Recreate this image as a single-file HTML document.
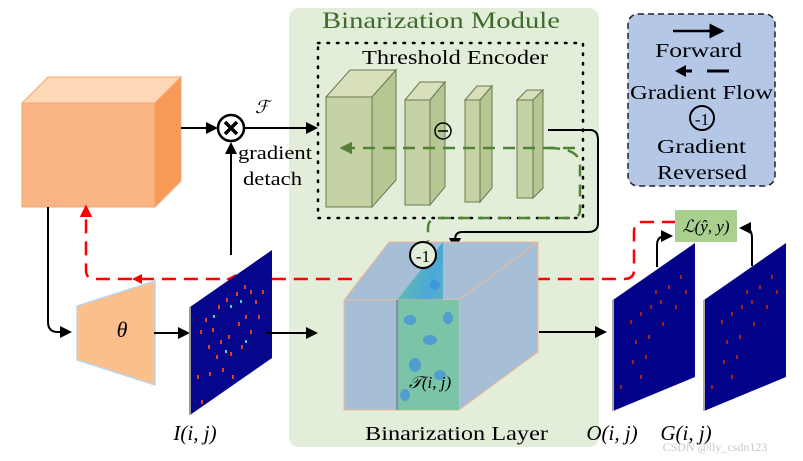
<!DOCTYPE html>
<html><head><meta charset="utf-8"><style>
body{margin:0;background:#fff}
svg{display:block}
text{font-family:"Liberation Serif",serif}
</style></head><body>
<svg width="803" height="461" viewBox="0 0 803 461" xmlns="http://www.w3.org/2000/svg">
<defs>
<marker id="ab" markerWidth="6" markerHeight="6" refX="5" refY="3" orient="auto" markerUnits="strokeWidth"><path d="M0,0 L6,3 L0,6 z" fill="#000"/></marker>
<marker id="ar" markerWidth="5" markerHeight="5" refX="4" refY="2.5" orient="auto" markerUnits="strokeWidth"><path d="M0,0 L5,2.5 L0,5 z" fill="#f00"/></marker>
<marker id="ag" markerWidth="5" markerHeight="5" refX="4" refY="2.5" orient="auto" markerUnits="strokeWidth"><path d="M0,0 L5,2.5 L0,5 z" fill="#548235"/></marker>
<linearGradient id="tex" x1="0" y1="0" x2="1" y2="1"><stop offset="0" stop-color="#6cc0a0"/><stop offset="0.5" stop-color="#4aa8d8"/><stop offset="1" stop-color="#7cc49a"/></linearGradient>
</defs>
<rect x="289" y="8" width="310" height="439" rx="10" fill="#e2eed9"/>
<text x="322" y="28" font-size="23" fill="#3f6b2a" textLength="238" lengthAdjust="spacingAndGlyphs">Binarization Module</text>
<rect x="318" y="43" width="265" height="175" fill="none" stroke="#000" stroke-width="2.5" stroke-dasharray="1.5 8" stroke-linecap="round"/>
<text x="362" y="64" font-size="20" textLength="186" lengthAdjust="spacingAndGlyphs">Threshold Encoder</text>
<g stroke="#6b7a50" stroke-width="1">
<polygon points="326,97 350,70 396,70 372,97" fill="#d7dfbb"/>
<rect x="326" y="97" width="46" height="110" fill="#c5d2a6"/>
<polygon points="372,97 396,70 396,180 372,207" fill="#b5c792"/>
<polygon points="405,100 420,82 445,82 430,100" fill="#d7dfbb"/>
<rect x="405" y="100" width="25" height="105" fill="#c5d2a6"/>
<polygon points="430,100 445,82 445,187 430,205" fill="#b5c792"/>
<polygon points="465,100 477,86 492,86 480,100" fill="#d7dfbb"/>
<rect x="465" y="100" width="15" height="102" fill="#c5d2a6"/>
<polygon points="480,100 492,86 492,188 480,202" fill="#b5c792"/>
<polygon points="517,100 527,90 543,90 533,100" fill="#d7dfbb"/>
<rect x="517" y="100" width="16" height="98" fill="#c5d2a6"/>
<polygon points="533,100 543,90 543,188 533,198" fill="#b5c792"/>
</g>
<circle cx="443" cy="131" r="8" fill="none" stroke="#000" stroke-width="1.5"/>
<line x1="438" y1="131" x2="448" y2="131" stroke="#000" stroke-width="1.5"/>
<path d="M575,148 L342,148" fill="none" stroke="#548235" stroke-width="2.5" stroke-dasharray="12 8" marker-end="url(#ag)"/>
<path d="M548,148 Q580,148 580,165 L580,210 Q580,218 570,218 L440,218 Q428,218 428,228 L428,242" fill="none" stroke="#548235" stroke-width="2.5" stroke-dasharray="12 8"/>
<path d="M548,130 L590,130 Q598,130 598,140 L598,223 Q598,232 588,232 L462,232 Q455,232 455,240 L455,248" fill="none" stroke="#000" stroke-width="2" marker-end="url(#ab)"/>
<polygon points="22,103 48,77 181,77 155,103" fill="#fdd7b6" stroke="#f2a875"/>
<rect x="22" y="103" width="133" height="104" fill="#fbb584" stroke="#f2a875"/>
<polygon points="155,103 181,77 181,181 155,207" fill="#f79a58" stroke="#f2a875"/>
<line x1="181" y1="128" x2="216" y2="128" stroke="#000" stroke-width="2" marker-end="url(#ab)"/>
<line x1="245" y1="128" x2="316" y2="128" stroke="#000" stroke-width="2" marker-end="url(#ab)"/>
<line x1="231" y1="255" x2="231" y2="144" stroke="#000" stroke-width="2" marker-end="url(#ab)"/>
<circle cx="231" cy="128" r="13" fill="#fff" stroke="#000" stroke-width="2.5"/>
<path d="M225,122 L237,134 M237,122 L225,134" stroke="#000" stroke-width="3.5"/>
<text x="255" y="113" font-size="18" font-style="italic">ℱ</text>
<text x="238" y="159" font-size="19" textLength="74" lengthAdjust="spacingAndGlyphs">gradient</text>
<text x="243" y="185" font-size="19" textLength="59" lengthAdjust="spacingAndGlyphs">detach</text>
<path d="M676,222 L642,222 Q634,222 634,232 L634,270 Q634,279 624,279 L95,279 Q86,279 86,270 L86,207" fill="none" stroke="#f00" stroke-width="2.5" stroke-dasharray="14 8" marker-end="url(#ar)"/>
<polygon points="132,279 142,274 142,284" fill="#f00"/>
<polygon points="226,279 236,274 236,284" fill="#f00"/>
<path d="M48,207 L48,322 Q48,332 58,332 L70,332" fill="none" stroke="#000" stroke-width="2" marker-end="url(#ab)"/>
<polygon points="77,306 155,281 155,385 77,360" fill="#fbbf8c" stroke="#bcd6ee" stroke-width="1.5"/>
<text x="122" y="337" font-size="22" font-style="italic" text-anchor="middle">θ</text>
<line x1="154" y1="333" x2="188" y2="333" stroke="#000" stroke-width="2" marker-end="url(#ab)"/>
<polygon points="190,307 272,250 272,358 190,415" fill="#06068c"/>
<line x1="190" y1="307" x2="190" y2="415" stroke="#999" stroke-width="2"/>
<g fill="#e04020">
<rect x="205" y="318" width="2" height="4"/><rect x="212" y="328" width="2" height="4"/><rect x="220" y="340" width="2" height="4"/><rect x="228" y="335" width="2" height="4"/><rect x="238" y="322" width="2" height="4"/><rect x="245" y="315" width="2" height="4"/><rect x="216" y="355" width="2" height="4"/><rect x="230" y="352" width="2" height="4"/><rect x="241" y="345" width="2" height="4"/><rect x="209" y="372" width="2" height="4"/><rect x="222" y="368" width="2" height="4"/><rect x="197" y="375" width="2" height="4"/><rect x="201" y="400" width="2" height="4"/><rect x="232" y="375" width="2" height="4"/><rect x="255" y="300" width="2" height="4"/><rect x="262" y="290" width="2" height="4"/><rect x="250" y="290" width="2" height="4"/><rect x="218" y="305" width="2" height="4"/><rect x="226" y="298" width="2" height="4"/><rect x="236" y="292" width="2" height="4"/><rect x="244" y="285" width="2" height="4"/><rect x="208" y="345" width="2" height="4"/><rect x="250" y="330" width="2" height="4"/><rect x="258" y="315" width="2" height="4"/><rect x="200" y="330" width="2" height="4"/>
</g>
<g fill="#40e0a0"><rect x="213" y="315" width="2" height="3"/><rect x="225" y="350" width="2" height="3"/><rect x="245" y="340" width="2" height="3"/><rect x="230" y="305" width="2" height="3"/><rect x="240" y="300" width="2" height="3"/></g>
<line x1="266" y1="333" x2="316" y2="333" stroke="#000" stroke-width="2" marker-end="url(#ab)"/>
<text x="195" y="440" font-size="21" font-style="italic" text-anchor="middle">I(i, j)</text>
<polygon points="344,300 389,242 538,242 459,300" fill="#a6bfd6" stroke="#f2b890"/>
<polygon points="459,300 538,242 538,352 459,410" fill="#a6bfd6" stroke="#f2b890"/>
<polygon points="397,300 443,242 443,352 397,410" fill="url(#tex)"/>
<rect x="344" y="300" width="115" height="110" fill="#a6bfd6" stroke="#f2b890"/>
<rect x="397" y="300" width="62" height="110" fill="#7cc4a8"/>
<g fill="#3c8fe0" opacity="0.7">
<ellipse cx="410" cy="320" rx="6" ry="5"/><ellipse cx="430" cy="340" rx="7" ry="5"/><ellipse cx="448" cy="318" rx="5" ry="6"/><ellipse cx="415" cy="365" rx="6" ry="7"/><ellipse cx="440" cy="375" rx="6" ry="5"/><ellipse cx="405" cy="395" rx="5" ry="6"/><ellipse cx="425" cy="265" rx="6" ry="5"/><ellipse cx="435" cy="285" rx="5" ry="5"/>
</g>
<line x1="397" y1="300" x2="397" y2="410" stroke="#7f8fb0" stroke-width="2"/>
<text x="430" y="388" font-size="17" font-style="italic" text-anchor="middle">𝒯(i, j)</text>
<circle cx="423" cy="255" r="13" fill="#e2eed9" stroke="#000" stroke-width="2"/>
<text x="423" y="262" font-size="17" text-anchor="middle" font-family="Liberation Sans">-1</text>
<text x="365" y="440" font-size="20" textLength="183" lengthAdjust="spacingAndGlyphs">Binarization Layer</text>
<line x1="539" y1="332" x2="605" y2="332" stroke="#000" stroke-width="2" marker-end="url(#ab)"/>
<polygon points="613,300 695,243 695,377 613,411" fill="#03038a"/>
<line x1="613" y1="300" x2="613" y2="411" stroke="#aaa" stroke-width="2"/>
<polygon points="704,300 786,243 786,377 704,411" fill="#03038a"/>
<line x1="704" y1="300" x2="704" y2="411" stroke="#aaa" stroke-width="2"/>
<g fill="#a02020">
<rect x="630" y="320" width="2" height="4"/><rect x="640" y="312" width="2" height="4"/><rect x="650" y="305" width="2" height="4"/><rect x="660" y="300" width="2" height="4"/><rect x="635" y="340" width="2" height="4"/><rect x="648" y="335" width="2" height="4"/><rect x="662" y="322" width="2" height="4"/><rect x="675" y="305" width="2" height="4"/><rect x="632" y="360" width="2" height="4"/><rect x="645" y="355" width="2" height="4"/><rect x="620" y="385" width="2" height="4"/><rect x="640" y="375" width="2" height="4"/><rect x="685" y="290" width="2" height="4"/><rect x="668" y="285" width="2" height="4"/><rect x="655" y="290" width="2" height="4"/><rect x="680" y="275" width="2" height="4"/>
<rect x="721" y="320" width="2" height="4"/><rect x="731" y="312" width="2" height="4"/><rect x="741" y="305" width="2" height="4"/><rect x="751" y="300" width="2" height="4"/><rect x="726" y="340" width="2" height="4"/><rect x="739" y="335" width="2" height="4"/><rect x="753" y="322" width="2" height="4"/><rect x="766" y="305" width="2" height="4"/><rect x="723" y="360" width="2" height="4"/><rect x="736" y="355" width="2" height="4"/><rect x="711" y="385" width="2" height="4"/><rect x="731" y="375" width="2" height="4"/><rect x="776" y="290" width="2" height="4"/><rect x="759" y="285" width="2" height="4"/><rect x="746" y="290" width="2" height="4"/><rect x="771" y="275" width="2" height="4"/>
</g>
<text x="612" y="440" font-size="21" font-style="italic" text-anchor="middle">O(i, j)</text>
<text x="686" y="440" font-size="21" font-style="italic" text-anchor="middle">G(i, j)</text>
<rect x="675" y="210" width="62" height="32" fill="#a9d08e"/>
<text x="706" y="232" font-size="17" font-style="italic" text-anchor="middle">ℒ(ŷ, y)</text>
<path d="M657,267 L657,245 Q657,236 666,236 L671,236" fill="none" stroke="#000" stroke-width="2" marker-end="url(#ab)"/>
<path d="M752,266 L752,238 Q752,228 744,228 L741,228" fill="none" stroke="#000" stroke-width="2" marker-end="url(#ab)"/>
<rect x="628" y="14" width="147" height="172" rx="10" fill="#b4c7e7" stroke="#222" stroke-width="1.5" stroke-dasharray="6 4"/>
<line x1="673" y1="31" x2="722" y2="31" stroke="#000" stroke-width="2.5" marker-end="url(#ab)"/>
<text x="655" y="57" font-size="20" textLength="87" lengthAdjust="spacingAndGlyphs">Forward</text>
<line x1="684" y1="71" x2="692" y2="71" stroke="#000" stroke-width="3"/>
<polygon points="675,71 686,65 686,77" fill="#000"/>
<line x1="707" y1="71" x2="729" y2="71" stroke="#000" stroke-width="3"/>
<text x="630" y="99" font-size="20" textLength="143" lengthAdjust="spacingAndGlyphs">Gradient Flow</text>
<circle cx="702" cy="118" r="12" fill="none" stroke="#000" stroke-width="2"/>
<text x="702" y="125" font-size="17" text-anchor="middle" font-family="Liberation Sans">-1</text>
<text x="657" y="153" font-size="20" textLength="89" lengthAdjust="spacingAndGlyphs">Gradient</text>
<text x="657" y="179" font-size="20" textLength="90" lengthAdjust="spacingAndGlyphs">Reversed</text>
<text x="715" y="451" font-size="12" fill="#c8c8c8" text-anchor="middle" font-family="Liberation Sans">CSDN @lly_csdn123</text>
</svg>
</body></html>
